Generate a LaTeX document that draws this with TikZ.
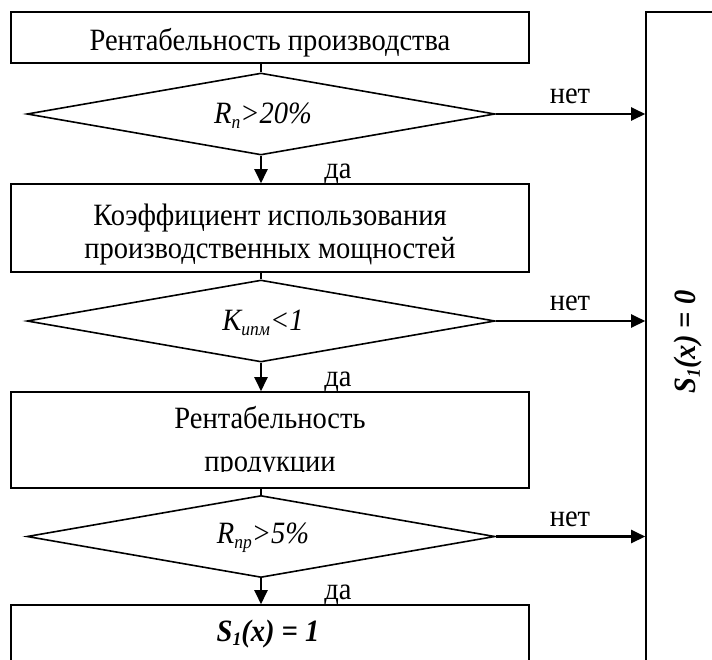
\documentclass[tikz,border=0pt]{standalone}
\usepackage{fontspec}
\setmainfont[FakeStretch=0.92]{Liberation Serif}
\usetikzlibrary{shapes.geometric,arrows.meta}

% lowered index in a smaller size
\newcommand\lowidx[1]{\raisebox{-0.35ex}{\fontsize{19}{19}\selectfont #1}}

\begin{document}
\begin{tikzpicture}[x=1pt,y=-1pt,
  font=\fontsize{31}{33}\selectfont,
  stepbox/.style={draw, line width=1.6pt, rectangle, minimum width=518pt,
    inner sep=0pt},
  test/.style={draw, line width=1.6pt, diamond, aspect=5.7, minimum width=468pt,
    minimum height=82pt, inner sep=0pt},
  cond/.style={inner sep=0pt, font=\fontsize{31}{33}\selectfont\itshape},
  flow/.style={line width=2.4pt, -{Triangle[length=14pt,width=13pt]}},
  link/.style={line width=2.4pt},
  lbl/.style={inner sep=0pt, anchor=base},
  txt/.style={inner sep=0pt, align=center},
  formula/.style={inner sep=0pt, anchor=base, font=\fontsize{31}{33}\selectfont\bfseries\itshape},
]
\clip (0,0) rectangle (712,659);

% process boxes
\node[stepbox, minimum height=51pt] (b1) at (270,37.5) {};
\node[stepbox, minimum height=88pt] (b2) at (270,228) {};
\node[stepbox, minimum height=96pt] (b3) at (270,440) {};
\node[stepbox, minimum height=94pt] (b4) at (270,652) {};

% decisions
\node[test] (d1) at (261,114) {};
\node[test] (d2) at (261,321) {};
\node[test] (d3) at (261,536.5) {};
\node[cond] (c1) at (263,116) {R\lowidx{п}>20\%};
\node[cond] (c2) at (263,323) {K\lowidx{ипм}<1};
\node[cond] (c3) at (263,538) {R\lowidx{пр}>5\%};

% result box on the right
\node[draw, line width=1.6pt, rectangle, minimum width=114pt, minimum height=708pt,
  inner sep=0pt] (z) at (703,366) {};

% texts of the boxes
\node[lbl] (t1) at (270,50) {Рентабельность производства};
\node[txt] (t2) at (270,234.5) {Коэффициент использования\\производственных мощностей};
\node[lbl] (t3a) at (270,428) {Рентабельность};
\begin{scope}
  \clip (11,440) rectangle (529,471);
  \node[lbl] (t3b) at (270,471) {продукции};
\end{scope}
\node[formula] (s1) at (268,641) {S\lowidx{1}(x) = 1};
\node[formula, rotate=90] (s0) at (695,342) {S\lowidx{1}(x) = 0};

% connectors
\draw[link] (d1.north) -- (d1.north |- b1.south);
\draw[flow] (d1.south) -- (d1.south |- b2.north);
\draw[link] (d2.north) -- (d2.north |- b2.south);
\draw[flow] (d2.south) -- (d2.south |- b3.north);
\draw[link] (d3.north) -- (d3.north |- b3.south);
\draw[flow] (d3.south) -- (d3.south |- b4.north);

\draw[flow] (d1.east) -- (d1.east -| z.west);
\draw[flow] (d2.east) -- (d2.east -| z.west);
\draw[flow] (d3.east) -- (d3.east -| z.west);

% branch labels
\node[lbl] (n1) at (570,103) {нет};
\node[lbl] (n2) at (570,310) {нет};
\node[lbl] (n3) at (570,526) {нет};
\node[lbl] (y1) at (338,178) {да};
\node[lbl] (y2) at (338,386) {да};
\node[lbl] (y3) at (338,599) {да};
\end{tikzpicture}
\end{document}
